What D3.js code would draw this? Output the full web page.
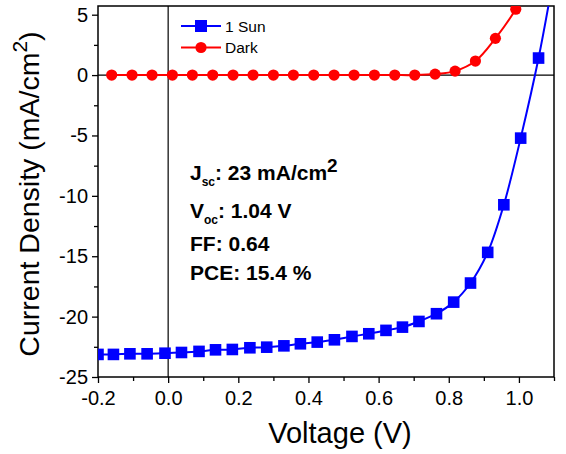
<!DOCTYPE html>
<html><head><meta charset="utf-8">
<script src="https://cdn.jsdelivr.net/npm/d3@7"></script>
<style>body{margin:0;background:#fff}svg{display:block;font-family:"Liberation Sans",Arial,sans-serif}</style>
</head><body><svg id="c" width="566" height="454"></svg>
<script>
const sunV = [-0.200,-0.156,-0.109,-0.060,-0.009,0.038,0.088,0.135,0.183,0.233,0.281,0.330,0.377,0.425,0.474,0.524,0.572,0.621,0.668,0.715,0.765,0.814,0.862,0.911,0.957,1.005,1.056,1.104];
const sunJ = [-23.13,-23.13,-23.08,-23.08,-23.03,-22.97,-22.88,-22.75,-22.72,-22.58,-22.53,-22.42,-22.25,-22.11,-21.92,-21.64,-21.42,-21.14,-20.87,-20.40,-19.76,-18.80,-17.22,-14.68,-10.74,-5.22,1.41,9.0];
const darkV = [-0.161,-0.103,-0.046,0.012,0.069,0.127,0.185,0.242,0.300,0.357,0.415,0.473,0.530,0.588,0.646,0.703,0.761,0.818,0.876,0.933,0.991,1.049];
const darkJ = [0,0,0,0,0,0,0,0,0,0,0,0,0,0,0,0,0.08,0.33,1.16,3.04,5.45,8.6];
const xTicks = [-0.2,0.0,0.2,0.4,0.6,0.8,1.0];
const xTickLabels = ["-0.2","0.0","0.2","0.4","0.6","0.8","1.0"];
const xMinor = [-0.1,0.1,0.3,0.5,0.7,0.9,1.1];
const yTicks = [5,0,-5,-10,-15,-20,-25];
const yTickLabels = ["5","0","-5","-10","-15","-20","-25"];
const yMinor = [2.5,-2.5,-7.5,-12.5,-17.5,-22.5];
const seriesNames = ["1 Sun","Dark"];

const svg = d3.select("#c");
const L=98,R=554,T=6,B=377;
const x = d3.scaleLinear().domain([-0.2,1.1]).range([L,R]);
const y = d3.scaleLinear().domain([-25,5.72]).range([B,T]);

svg.append("defs").append("clipPath").attr("id","clip")
  .append("rect").attr("x",L).attr("y",T).attr("width",R-L).attr("height",B-T);

// zero lines
svg.append("line").attr("x1",x(0)).attr("x2",x(0)).attr("y1",T).attr("y2",B).attr("stroke","#000").attr("stroke-width",1.2);
svg.append("line").attr("x1",L).attr("x2",R).attr("y1",y(0)).attr("y2",y(0)).attr("stroke","#000").attr("stroke-width",1.2);

// axes
const xAxis = d3.axisBottom(x).tickValues(xTicks).tickSize(6).tickPadding(8).tickFormat((d,i)=>xTickLabels[i]);
const gx = svg.append("g").attr("transform",`translate(0,${B})`).call(xAxis);
const yAxis = d3.axisLeft(y).tickValues(yTicks).tickSize(6).tickPadding(4).tickFormat((d,i)=>yTickLabels[i]);
const gy = svg.append("g").attr("transform",`translate(${L},0)`).call(yAxis);
const gxm = svg.append("g").attr("transform",`translate(0,${B})`).call(d3.axisBottom(x).tickValues(xMinor).tickSize(4).tickFormat(""));
const gym = svg.append("g").attr("transform",`translate(${L},0)`).call(d3.axisLeft(y).tickValues(yMinor).tickSize(4).tickFormat(""));
[gx,gy,gxm,gym].forEach(g=>{
  g.select(".domain").remove();
  g.selectAll("line").attr("stroke","#000").attr("stroke-width",1.3);
  g.selectAll("text").attr("font-size",20).attr("fill","#000").attr("font-family",'"Liberation Sans",Arial,sans-serif');
});

// frame
svg.append("rect").attr("x",L).attr("y",T).attr("width",R-L).attr("height",B-T)
  .attr("fill","none").attr("stroke","#000").attr("stroke-width",1.5);

const plot = svg.append("g").attr("clip-path","url(#clip)");
const sun = sunV.map((v,i)=>[v,sunJ[i]]);
const dark = darkV.map((v,i)=>[v,darkJ[i]]);
const line = d3.line().x(d=>x(d[0])).y(d=>y(d[1])).curve(d3.curveCatmullRom.alpha(0.5));

plot.append("path").datum(dark).attr("d",line).attr("fill","none").attr("stroke","#ff0000").attr("stroke-width",2);
plot.selectAll(".dk").data(dark).enter().append("circle")
  .attr("cx",d=>x(d[0])).attr("cy",d=>y(d[1])).attr("r",5.6).attr("fill","#ff0000");
plot.append("path").datum(sun).attr("d",line).attr("fill","none").attr("stroke","#0000ff").attr("stroke-width",2);
plot.selectAll(".sn").data(sun).enter().append("rect")
  .attr("x",d=>x(d[0])-5.8).attr("y",d=>y(d[1])-5.8).attr("width",11.6).attr("height",11.6).attr("fill","#0000ff");

// legend
const lg = svg.append("g");
const lgColors = ["#0000ff","#ff0000"];
seriesNames.forEach((n,i)=>{
  const yy = 26 + i*21.5;
  lg.append("line").attr("x1",181).attr("x2",221).attr("y1",yy).attr("y2",yy).attr("stroke",lgColors[i]).attr("stroke-width",2);
  if(i===0) lg.append("rect").attr("x",195).attr("y",yy-6).attr("width",12).attr("height",12).attr("fill",lgColors[i]);
  else lg.append("circle").attr("cx",201).attr("cy",yy).attr("r",5.6).attr("fill",lgColors[i]);
  lg.append("text").attr("x",225).attr("y",yy+5.5).attr("font-size",15.5).attr("fill","#000").text(n);
});

// annotation
const ann = svg.append("g").attr("font-weight","bold").attr("font-size",21).attr("fill","#000");
let t = ann.append("text").attr("x",190).attr("y",180);
t.append("tspan").text("J");
t.append("tspan").attr("font-size",12).attr("dy",6).text("sc");
t.append("tspan").attr("dy",-6).text(": 23 mA/cm");
t.append("tspan").attr("font-size",19).attr("dy",-8).text("2");
t = ann.append("text").attr("x",190).attr("y",218);
t.append("tspan").text("V");
t.append("tspan").attr("font-size",12).attr("dy",6).text("oc");
t.append("tspan").attr("dy",-6).text(": 1.04 V");
ann.append("text").attr("x",190).attr("y",251).text("FF: 0.64");
ann.append("text").attr("x",190).attr("y",280).text("PCE: 15.4 %");

// axis titles
svg.append("text").attr("x",340).attr("y",443).attr("text-anchor","middle").attr("font-size",29).attr("fill","#000").text("Voltage (V)");
const yt = svg.append("text").attr("transform","translate(39,194) rotate(-90)").attr("text-anchor","middle").attr("font-size",28.5).attr("fill","#000");
yt.append("tspan").text("Current Density (mA/cm");
yt.append("tspan").attr("font-size",21).attr("dy",-12).text("2");
yt.append("tspan").attr("dy",12).text(")");
</script></body></html>
